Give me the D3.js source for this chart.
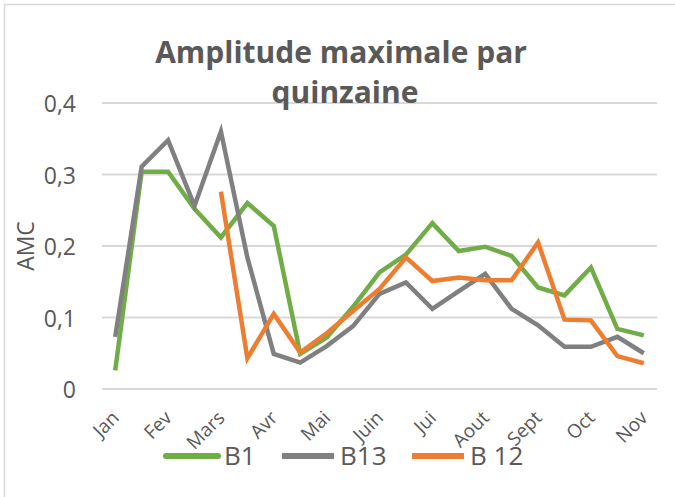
<!DOCTYPE html>
<html>
<head>
<meta charset="utf-8">
<script src="https://cdn.jsdelivr.net/npm/d3@7"></script>
<style>
  body { margin: 0; background: #fff; }
  text { font-family: "Open Sans", sans-serif; fill: #595959; }
</style>
</head>
<body>
<div id="chart"></div>
<script>
// fortnightly values, Jan -> Nov (21 points)
const months = ["Jan", "Fev", "Mars", "Avr", "Mai", "Juin", "Jui", "Aout", "Sept", "Oct", "Nov"];
const yTicks = [0, 0.1, 0.2, 0.3, 0.4];

const b1 = [0.026, 0.304, 0.304, 0.252, 0.212, 0.260, 0.228, 0.049, 0.072, 0.115, 0.163,
            0.188, 0.232, 0.193, 0.199, 0.186, 0.142, 0.131, 0.170, 0.084, 0.075];
const b13 = [0.073, 0.311, 0.348, 0.256, 0.360, 0.184, 0.049, 0.037, 0.060, 0.088, 0.133,
             0.149, 0.112, 0.137, 0.161, 0.112, 0.089, 0.059, 0.059, 0.073, 0.050];
const b12 = [null, null, null, null, 0.276, 0.043, 0.105, 0.051, 0.078, 0.109, 0.140,
             0.184, 0.151, 0.156, 0.152, 0.152, 0.205, 0.097, 0.096, 0.046, 0.036];

const series = [
  { name: "B1", values: b1, color: "#70ad47", cap: "round" },
  { name: "B13", values: b13, color: "#808080", cap: "butt" },
  { name: "B 12", values: b12, color: "#ed7d31", cap: "butt" }
];

const width = 675, height = 497;
const plot = { left: 102, right: 657, top: 103, bottom: 389 };

const svg = d3.select("#chart").append("svg")
  .attr("width", width)
  .attr("height", height);

// chart border
svg.append("rect")
  .attr("x", 4.5).attr("y", 4.5)
  .attr("width", 700).attr("height", 520)
  .attr("fill", "none")
  .attr("stroke", "#d9d9d9")
  .attr("stroke-width", 1.5);

const x = d3.scalePoint()
  .domain(d3.range(b1.length))
  .range([plot.left, plot.right])
  .padding(0.5);

const y = d3.scaleLinear()
  .domain([0, 0.4])
  .range([plot.bottom, plot.top]);

// one month label every two fortnights
const xm = d3.scalePoint()
  .domain(months)
  .range([x(0), x(20)]);

// gridlines
svg.append("g")
  .selectAll("line")
  .data(yTicks)
  .join("line")
  .attr("x1", plot.left).attr("x2", plot.right)
  .attr("y1", d => y(d)).attr("y2", d => y(d))
  .attr("stroke", "#d9d9d9")
  .attr("stroke-width", 2);

// y tick labels
const fmt = d => d === 0 ? "0" : d3.format(".1f")(d).replace(".", ",");
svg.append("g")
  .selectAll("text")
  .data(yTicks)
  .join("text")
  .attr("x", 76)
  .attr("y", d => y(d) + 1)
  .attr("dy", "0.35em")
  .attr("text-anchor", "end")
  .style("font-size", "23px")
  .text(fmt);

// x labels
svg.append("g")
  .selectAll("text")
  .data(months)
  .join("text")
  .attr("transform", d => `translate(${xm(d) + 5},${plot.bottom + 30}) rotate(-45)`)
  .attr("text-anchor", "end")
  .style("font-size", "19px")
  .text(d => d);

// y title
svg.append("text")
  .attr("transform", `translate(26,${y(0.2)}) rotate(-90)`)
  .attr("text-anchor", "middle")
  .attr("dy", "0.35em")
  .style("font-size", "23px")
  .text("AMC");

// lines
const line = d3.line()
  .defined(d => d != null)
  .x((d, i) => x(i))
  .y(d => y(d));

svg.append("g")
  .selectAll("path")
  .data(series)
  .join("path")
  .attr("d", d => line(d.values))
  .attr("fill", "none")
  .attr("stroke", d => d.color)
  .attr("stroke-width", 4.5);

// title
const title = svg.append("text")
  .attr("text-anchor", "middle")
  .style("font-size", "30px")
  .style("font-weight", "bold");
title.append("tspan").attr("x", 341).attr("y", 63).text("Amplitude maximale par");
title.append("tspan").attr("x", 345).attr("y", 103).text("quinzaine");

// legend
const legendX = [166, 282, 412];
const lg = svg.append("g")
  .selectAll("g")
  .data(series)
  .join("g")
  .attr("transform", (d, i) => `translate(${legendX[i]},456)`);
lg.append("line")
  .attr("x1", 0).attr("x2", 52)
  .attr("stroke", d => d.color)
  .attr("stroke-linecap", d => d.cap)
  .attr("stroke-width", 6);
lg.append("text")
  .attr("x", 58)
  .attr("dy", "0.35em")
  .style("font-size", "26px")
  .text(d => d.name);
</script>
</body>
</html>
